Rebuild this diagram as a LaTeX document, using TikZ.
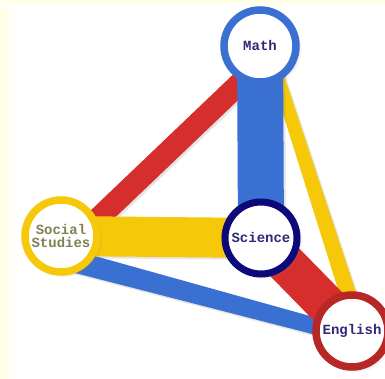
\documentclass[tikz,border=0pt]{standalone}
\usepackage{fontspec}
\newfontfamily\labelfont{Liberation Mono}
\usetikzlibrary{calc,shadows}
\pgfdeclarelayer{paper}\pgfdeclarelayer{bands}
\pgfsetlayers{paper,bands,main}
\definecolor{mblue}{RGB}{58,112,210}
\definecolor{mred}{RGB}{214,46,44}
\definecolor{myellow}{RGB}{245,200,10}
\definecolor{mnavy}{RGB}{12,10,122}
\definecolor{mcream}{RGB}{255,255,228}
\definecolor{mink}{RGB}{48,40,120}
\definecolor{molive}{RGB}{128,128,84}
% tapered band between two points: from, to, half width at from, half width at to, colour
\newcommand{\band}[5]{%
 \fill[#5,drop shadow={shadow xshift=2pt,shadow yshift=-2pt,opacity=0.2}]
  ($(#1)!#3!90:(#2)$)--($(#2)!#4!-90:(#1)$)--($(#2)!#4!90:(#1)$)--($(#1)!#3!-90:(#2)$)--cycle;}
\begin{document}
\begin{tikzpicture}[x=1pt,y=1pt,
  subject/.style={circle,fill=white,line width=7.5pt,minimum size=72pt,inner sep=0pt,align=center,
   font=\labelfont\bfseries\fontsize{14}{12.5}\selectfont,text=mink,
   circular drop shadow={shadow xshift=2pt,shadow yshift=-2pt,opacity=0.25}}]
 \useasboundingbox (0,0) rectangle (385,379);
 \begin{pgfonlayer}{paper}
  \fill[white] (0,0) rectangle (385,379);
  \shade[left color=mcream,right color=white] (0,0) rectangle (16,379);
  \shade[top color=mcream,bottom color=white] (0,372) rectangle (385,379);
 \end{pgfonlayer}
 % the four subjects
 \node[subject,draw=mblue] (math) at (260,333) {Math};
 \node[subject,draw=myellow,text=molive] (social) at (61,143) {Social\\Studies};
 \node[subject,draw=mnavy,line width=7pt] (science) at (261,141) {Science};
 \node[subject,draw=mred!85!black] (english) at (352,48) {English};
 % links
 \begin{pgfonlayer}{bands}
  \coordinate (s1) at ([yshift=-22pt]social.center);
  \coordinate (e1) at ([yshift=-5pt]english.center);
  \coordinate (m1) at ([yshift=-18pt]math.center);
  \coordinate (s2) at ([yshift=-18pt]social.center);
  \coordinate (m2) at ([xshift=8pt]math.center);
  \coordinate (e2) at ([xshift=8pt]english.center);
  \band{s1}{e1}{11pt}{8pt}{mblue}
  \band{m1}{s2}{11pt}{11pt}{mred}
  \band{m2}{e2}{6pt}{8.5pt}{myellow}
  \band{science.center}{english.center}{20pt}{20pt}{mred}
  \band{math.center}{science.center}{23pt}{23pt}{mblue}
  \band{social.center}{science.center}{20pt}{20pt}{myellow}
 \end{pgfonlayer}
\end{tikzpicture}
\end{document}
